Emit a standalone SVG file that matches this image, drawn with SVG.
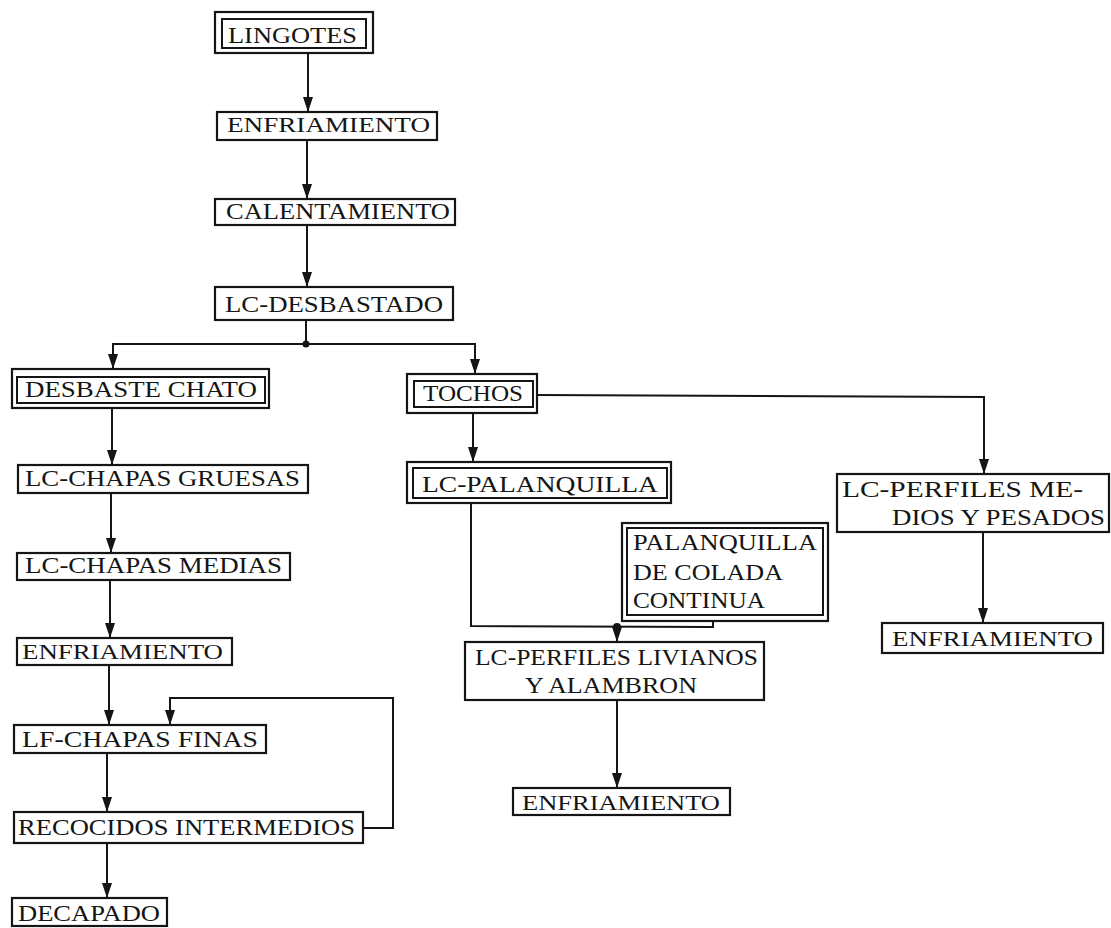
<svg xmlns="http://www.w3.org/2000/svg" width="1111" height="928" viewBox="0 0 1111 928">
<style>
.b{fill:#fff;stroke:#151515;stroke-width:2.2}
.bi{fill:none;stroke:#151515;stroke-width:2}
.t{font-family:"Liberation Serif","Times New Roman",serif;font-size:23px;fill:#151515}
.s{font-size:21px}
.c{fill:none;stroke:#151515;stroke-width:2}
</style>
<defs>
<marker id="ar" viewBox="0 0 15 10" refX="15" refY="5" markerWidth="15" markerHeight="10" markerUnits="userSpaceOnUse" orient="auto">
<path d="M0,0 L15,5 L0,10 z" fill="#151515"/>
</marker>
</defs>
<rect width="1111" height="928" fill="#fff"/>
<g id="connectors">
<line class="c" x1="308" y1="53" x2="308" y2="112" marker-end="url(#ar)"/>
<line class="c" x1="307" y1="140" x2="307" y2="199" marker-end="url(#ar)"/>
<line class="c" x1="307" y1="225" x2="307" y2="287" marker-end="url(#ar)"/>
<line class="c" x1="306" y1="320" x2="306" y2="344"/>
<line class="c" x1="112" y1="344" x2="476" y2="344"/>
<line class="c" x1="113" y1="344" x2="113" y2="369" marker-end="url(#ar)"/>
<line class="c" x1="475" y1="344" x2="475" y2="374" marker-end="url(#ar)"/>
<circle cx="306" cy="344" r="3.5" fill="#151515"/>
<line class="c" x1="112" y1="408" x2="112" y2="465" marker-end="url(#ar)"/>
<line class="c" x1="111" y1="493" x2="111" y2="553" marker-end="url(#ar)"/>
<line class="c" x1="110" y1="580" x2="110" y2="638" marker-end="url(#ar)"/>
<line class="c" x1="109" y1="665" x2="109" y2="725" marker-end="url(#ar)"/>
<line class="c" x1="107" y1="753" x2="107" y2="812" marker-end="url(#ar)"/>
<line class="c" x1="107" y1="843" x2="107" y2="898" marker-end="url(#ar)"/>
<polyline class="c" points="363,828 393,828 393,698 170,698 170,725" marker-end="url(#ar)"/>
<line class="c" x1="473" y1="413" x2="473" y2="462" marker-end="url(#ar)"/>
<polyline class="c" points="537,395 984,397 984,474" marker-end="url(#ar)"/>
<line class="c" x1="983" y1="532" x2="983" y2="623" marker-end="url(#ar)"/>
<polyline class="c" points="471,503 471,626 713,627 713,621"/>
<circle cx="617" cy="627" r="4" fill="#151515"/>
<line class="c" x1="617" y1="627" x2="617" y2="642" marker-end="url(#ar)"/>
<line class="c" x1="617" y1="700" x2="617" y2="788" marker-end="url(#ar)"/>
</g>
<g id="n-lingotes">
<rect class="b" x="215" y="12" width="158" height="41"/>
<rect class="bi" x="222" y="19" width="144" height="29"/>
<text class="t" x="228" y="43" textLength="129" lengthAdjust="spacingAndGlyphs">LINGOTES</text>
</g>
<g id="n-enfriamiento1">
<rect class="b" x="217" y="112" width="220" height="28"/>
<text class="t s" x="227" y="132" textLength="203" lengthAdjust="spacingAndGlyphs">ENFRIAMIENTO</text>
</g>
<g id="n-calentamiento">
<rect class="b" x="215" y="199" width="240" height="26"/>
<text class="t" x="226" y="219" textLength="224" lengthAdjust="spacingAndGlyphs">CALENTAMIENTO</text>
</g>
<g id="n-lc-desbastado">
<rect class="b" x="215" y="287" width="238" height="33"/>
<text class="t" x="225" y="312" textLength="218" lengthAdjust="spacingAndGlyphs">LC-DESBASTADO</text>
</g>
<g id="n-desbaste-chato">
<rect class="b" x="12" y="369" width="257" height="39"/>
<rect class="bi" x="17" y="377" width="248" height="26"/>
<text class="t" x="25" y="397" textLength="232" lengthAdjust="spacingAndGlyphs">DESBASTE CHATO</text>
</g>
<g id="n-chapas-gruesas">
<rect class="b" x="18" y="465" width="290" height="28"/>
<text class="t" x="25" y="486" textLength="275" lengthAdjust="spacingAndGlyphs">LC-CHAPAS GRUESAS</text>
</g>
<g id="n-chapas-medias">
<rect class="b" x="17" y="553" width="273" height="27"/>
<text class="t" x="25" y="573" textLength="257" lengthAdjust="spacingAndGlyphs">LC-CHAPAS MEDIAS</text>
</g>
<g id="n-enfriamiento2">
<rect class="b" x="17" y="638" width="215" height="27"/>
<text class="t s" x="22" y="659" textLength="201" lengthAdjust="spacingAndGlyphs">ENFRIAMIENTO</text>
</g>
<g id="n-chapas-finas">
<rect class="b" x="14" y="725" width="252" height="28"/>
<text class="t" x="22" y="747" textLength="236" lengthAdjust="spacingAndGlyphs">LF-CHAPAS FINAS</text>
</g>
<g id="n-recocidos">
<rect class="b" x="14" y="812" width="349" height="31"/>
<text class="t" x="18" y="835" textLength="337" lengthAdjust="spacingAndGlyphs">RECOCIDOS INTERMEDIOS</text>
</g>
<g id="n-decapado">
<rect class="b" x="12" y="898" width="155" height="28"/>
<text class="t" x="18" y="921" textLength="142" lengthAdjust="spacingAndGlyphs">DECAPADO</text>
</g>
<g id="n-tochos">
<rect class="b" x="407" y="374" width="130" height="39"/>
<rect class="bi" x="414" y="381" width="119" height="26"/>
<text class="t" x="423" y="401" textLength="100" lengthAdjust="spacingAndGlyphs">TOCHOS</text>
</g>
<g id="n-lc-palanquilla">
<rect class="b" x="407" y="462" width="264" height="41"/>
<rect class="bi" x="413" y="468" width="254" height="30"/>
<text class="t" x="422" y="492" textLength="236" lengthAdjust="spacingAndGlyphs">LC-PALANQUILLA</text>
</g>
<g id="n-palanquilla-colada">
<rect class="b" x="622" y="523" width="206" height="98"/>
<rect class="bi" x="627" y="528" width="196" height="87"/>
<text class="t" x="633" y="550" textLength="184" lengthAdjust="spacingAndGlyphs">PALANQUILLA</text>
<text class="t" x="633" y="580" textLength="150" lengthAdjust="spacingAndGlyphs">DE COLADA</text>
<text class="t" x="633" y="608" textLength="132" lengthAdjust="spacingAndGlyphs">CONTINUA</text>
</g>
<g id="n-perfiles-livianos">
<rect class="b" x="465" y="642" width="299" height="58"/>
<text class="t" x="475" y="665" textLength="283" lengthAdjust="spacingAndGlyphs">LC-PERFILES LIVIANOS</text>
<text class="t" x="525" y="693" textLength="172" lengthAdjust="spacingAndGlyphs">Y ALAMBRON</text>
</g>
<g id="n-enfriamiento3">
<rect class="b" x="513" y="788" width="217" height="27"/>
<text class="t s" x="522" y="810" textLength="198" lengthAdjust="spacingAndGlyphs">ENFRIAMIENTO</text>
</g>
<g id="n-perfiles-medios">
<rect class="b" x="837" y="474" width="272" height="58"/>
<text class="t" x="842" y="497" textLength="241" lengthAdjust="spacingAndGlyphs">LC-PERFILES ME-</text>
<text class="t" x="892" y="525" textLength="213" lengthAdjust="spacingAndGlyphs">DIOS Y PESADOS</text>
</g>
<g id="n-enfriamiento4">
<rect class="b" x="882" y="623" width="221" height="30"/>
<text class="t s" x="892" y="646" textLength="201" lengthAdjust="spacingAndGlyphs">ENFRIAMIENTO</text>
</g>
</svg>
